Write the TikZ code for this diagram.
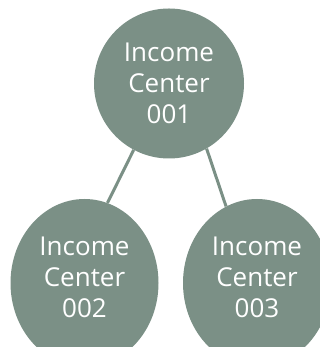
\documentclass[tikz,border=0pt]{standalone}
\usepackage{fontspec}
\setmainfont{Open Sans}
\usetikzlibrary{shapes.geometric}
\definecolor{sage}{RGB}{123,144,134}

\begin{document}
\begin{tikzpicture}[x=1pt,y=1pt,
  txt/.style={text=white,align=center,font=\fontsize{26}{31}\selectfont},
  center/.style={circle,fill=sage,minimum size=150pt,inner sep=0pt,txt},
  subcenter/.style={ellipse,fill=sage,minimum width=148pt,minimum height=168pt,inner sep=0pt},
  link/.style={draw=sage,line width=3pt}]
\useasboundingbox (0,0) rectangle (320,347);
\node[center] (ic1) at (169,263.5) {Income\\Center\\001};
\node[subcenter,label={[txt,yshift=6pt]center:Income\\Center\\002}] (ic2) at (84.5,64) {};
\node[subcenter,label={[txt,yshift=6pt]center:Income\\Center\\003}] (ic3) at (257,64) {};
\draw[link] (ic1.242) -- (ic2.74);
\draw[link] (ic1.300) -- (ic3.112);
\end{tikzpicture}
\end{document}
